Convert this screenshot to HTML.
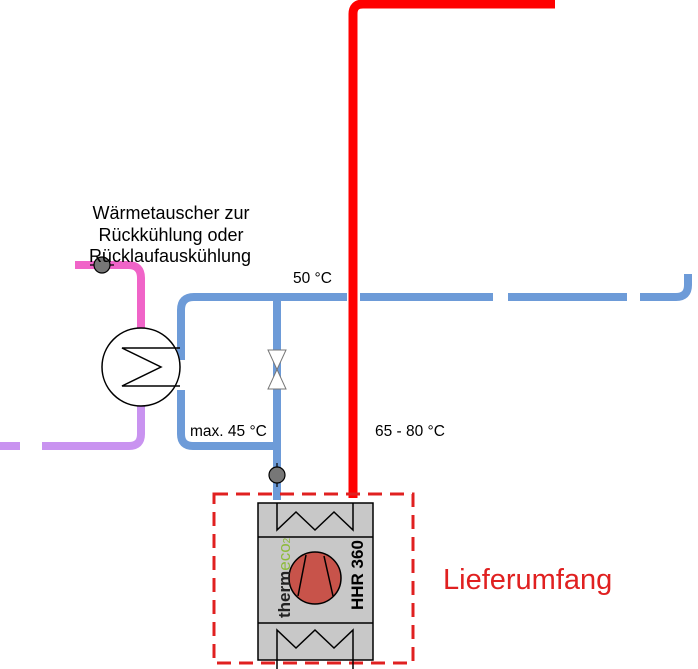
<!DOCTYPE html>
<html><head><meta charset="utf-8"><style>html,body{margin:0;padding:0;background:#fff}svg{display:block}</style></head><body>
<svg width="698" height="669" viewBox="0 0 698 669" xmlns="http://www.w3.org/2000/svg" font-family="Liberation Sans, sans-serif">
<g fill="none" stroke="#6d9bd8" stroke-width="8">
<path d="M181 360 V310 Q181 297 194 297 H347"/>
<path d="M360 297 H493"/>
<path d="M508 297 H627"/>
<path d="M640 297 H676 Q688 297 688 285 V274"/>
<path d="M181 390 V434 Q181 446 193 446 H277"/>
<path d="M277 297 V500"/>
</g>
<path d="M75 265 H128 Q141 265 141 278 V330" fill="none" stroke="#f064c8" stroke-width="8"/>
<path d="M141 405 V434 Q141 446 129 446 H42 M20 446 H0" fill="none" stroke="#c993f0" stroke-width="8"/>
<path d="M353 498 V14 Q353 4 363 4 H555" fill="none" stroke="#ff0000" stroke-width="9"/>
<circle cx="141" cy="367" r="39" fill="#fff" stroke="#000" stroke-width="1.5"/>
<path d="M180 348 H122 L161 367 L122 386 H180" fill="none" stroke="#000" stroke-width="1.5"/>
<path d="M268 350 H286 L268 389 H286 Z" fill="#fff" stroke="#777" stroke-width="1"/>
<g stroke="#000" stroke-width="1.2">
<line x1="90" y1="265" x2="114" y2="265"/>
<circle cx="102" cy="265" r="8" fill="#777"/>
<line x1="277" y1="463" x2="277" y2="487"/>
<circle cx="277" cy="475" r="8" fill="#777"/>
</g>
<rect x="214" y="494" width="199" height="169" fill="none" stroke="#e02020" stroke-width="3" stroke-dasharray="14,8"/>
<rect x="258" y="503" width="115" height="157" fill="#c8c8c8" stroke="#000" stroke-width="1.5"/>
<line x1="258" y1="537" x2="373" y2="537" stroke="#000" stroke-width="1.5"/>
<line x1="258" y1="623" x2="373" y2="623" stroke="#000" stroke-width="1.5"/>
<path d="M277 503 V530 L296 512 L315 530 L334 512 L353 530 V503" fill="none" stroke="#000" stroke-width="1.5"/>
<path d="M277 669 V630 L296 648 L315 630 L334 648 L353 630 V669" fill="none" stroke="#000" stroke-width="1.5"/>
<circle cx="315" cy="578" r="26" fill="#c8534a" stroke="#000" stroke-width="1.5"/>
<path d="M306 555 L298 596 M324 556 L333 596" stroke="#000" stroke-width="1.5"/>
<text transform="translate(290 618) rotate(-90)" font-size="17" font-weight="bold" fill="#222">therm<tspan fill="#8dbb3a" font-weight="normal">eco</tspan><tspan fill="#8dbb3a" font-size="10" font-weight="normal">2</tspan></text>
<text transform="translate(363 610) rotate(-90)" font-size="17" font-weight="bold" fill="#000">HHR 360</text>
<g font-size="18" fill="#000" text-anchor="middle">
<text x="171" y="219">Wärmetauscher zur</text>
<text x="171" y="241">Rückkühlung oder</text>
<text x="170" y="262">Rücklaufauskühlung</text>
</g>
<text x="293" y="283" font-size="15.5">50 °C</text>
<text x="190" y="436" font-size="15.5">max. 45 °C</text>
<text x="375" y="436" font-size="15.5">65 - 80 °C</text>
<text x="443" y="589" font-size="29" fill="#e02020">Lieferumfang</text>
</svg>
</body></html>
